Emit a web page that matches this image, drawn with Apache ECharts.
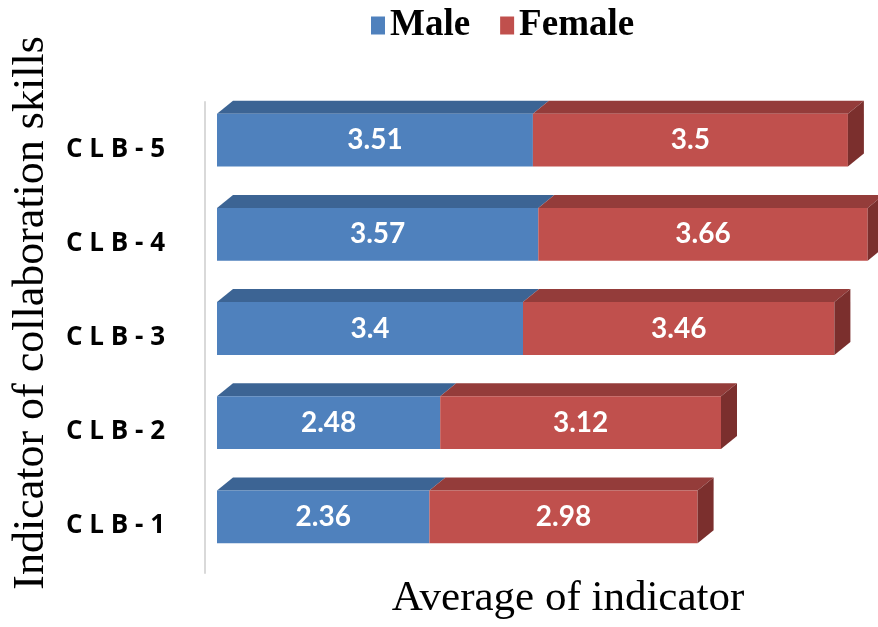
<!DOCTYPE html>
<html>
<head>
<meta charset="utf-8">
<script src="https://cdn.jsdelivr.net/npm/echarts@6/dist/echarts.min.js"></script>
<style>
  html, body { margin: 0; padding: 0; background: #fff; }
  #chart { width: 878px; height: 627px; }
</style>
</head>
<body>
<div id="chart"></div>
<script>
// 数据
var categories = ["CLB-1", "CLB-2", "CLB-3", "CLB-4", "CLB-5"];
var male = [2.36, 2.48, 3.4, 3.57, 3.51];
var female = [2.98, 3.12, 3.46, 3.66, 3.5];

(function () {
  var mychart = echarts.init(document.getElementById("chart"));

  // 3D柱子的深度
  var DX = 16, DY = 13, SHIFT = -9;

  function make3d(front, top, side, withSide) {
    return function (params, api) {
      var start = api.value(0), end = api.value(1), idx = api.value(2);
      var p0 = api.coord([start, idx]);
      var p1 = api.coord([end, idx]);
      var h = api.size([0, 1])[1] * 0.56;
      var yTop = p0[1] + SHIFT - h / 2;
      var yBot = yTop + h;
      var x0 = p0[0], x1 = p1[0];
      var children = [
        {
          type: "polygon",
          shape: { points: [[x0, yTop], [x1, yTop], [x1 + DX, yTop - DY], [x0 + DX, yTop - DY]] },
          style: { fill: top }
        },
        {
          type: "rect",
          shape: { x: x0, y: yTop, width: x1 - x0, height: h },
          style: { fill: front }
        },
        {
          type: "text",
          style: {
            text: String(api.value(3)),
            x: (x0 + x1) / 2,
            y: (yTop + yBot) / 2,
            align: "center",
            verticalAlign: "middle",
            fill: "#fff",
            font: "bold 28px Lato"
          }
        }
      ];
      if (withSide) {
        children.push({
          type: "polygon",
          shape: { points: [[x1, yTop], [x1 + DX, yTop - DY], [x1 + DX, yBot - DY], [x1, yBot]] },
          style: { fill: side }
        });
      }
      return { type: "group", children: children };
    };
  }

  var maleData = male.map(function (v, i) { return [0, v, i, v]; });
  var femaleData = female.map(function (v, i) { return [male[i], male[i] + v, i, v]; });

  var option = {
    animation: false,
    legend: {
      top: 2,
      left: 366,
      icon: "rect",
      itemWidth: 14,
      itemHeight: 18,
      itemGap: 30,
      textStyle: {
        fontFamily: "Liberation Serif",
        fontWeight: "bold",
        fontSize: 37,
        color: "#000"
      },
      data: ["Male", "Female"]
    },
    grid: {
      left: 205,
      right: 31,
      top: 102,
      bottom: 54
    },
    xAxis: {
      type: "value",
      min: -12 / 90,
      max: 7,
      axisLine: { show: false },
      axisTick: { show: false },
      axisLabel: { show: false },
      splitLine: { show: false },
      name: "Average of indicator",
      nameLocation: "middle",
      nameGap: 4,
      nameTextStyle: {
        fontFamily: "Liberation Serif",
        fontSize: 43,
        color: "#000",
        padding: [0, 0, 0, 84]
      }
    },
    yAxis: {
      type: "category",
      data: categories,
      axisLine: { show: true, onZero: false, lineStyle: { color: "#d9d9d9", width: 2 } },
      axisTick: { show: false },
      axisLabel: {
        margin: 40,
        color: "#000",
        fontFamily: "Open Sans",
        fontWeight: "bold",
        fontSize: 26,
        formatter: function (v) { return v.split("").join(" "); }
      },
      name: "Indicator of collaboration skills",
      nameLocation: "middle",
      nameRotate: 90,
      nameGap: 152,
      nameTextStyle: {
        fontFamily: "Liberation Serif",
        fontSize: 44,
        color: "#000",
        padding: [0, 0, 0, 49]
      }
    },
    series: [
      {
        name: "Male",
        type: "custom",
        color: "#4f81bd",
        clip: false,
        renderItem: make3d("#4f81bd", "#3c6494", "#2f5078", false),
        encode: { x: [0, 1], y: 2 },
        data: maleData
      },
      {
        name: "Female",
        type: "custom",
        color: "#c0504d",
        clip: false,
        renderItem: make3d("#c0504d", "#943c3a", "#7b2f2d", true),
        encode: { x: [0, 1], y: 2 },
        data: femaleData
      }
    ]
  };
  mychart.setOption(option);
})();
</script>
</body>
</html>
